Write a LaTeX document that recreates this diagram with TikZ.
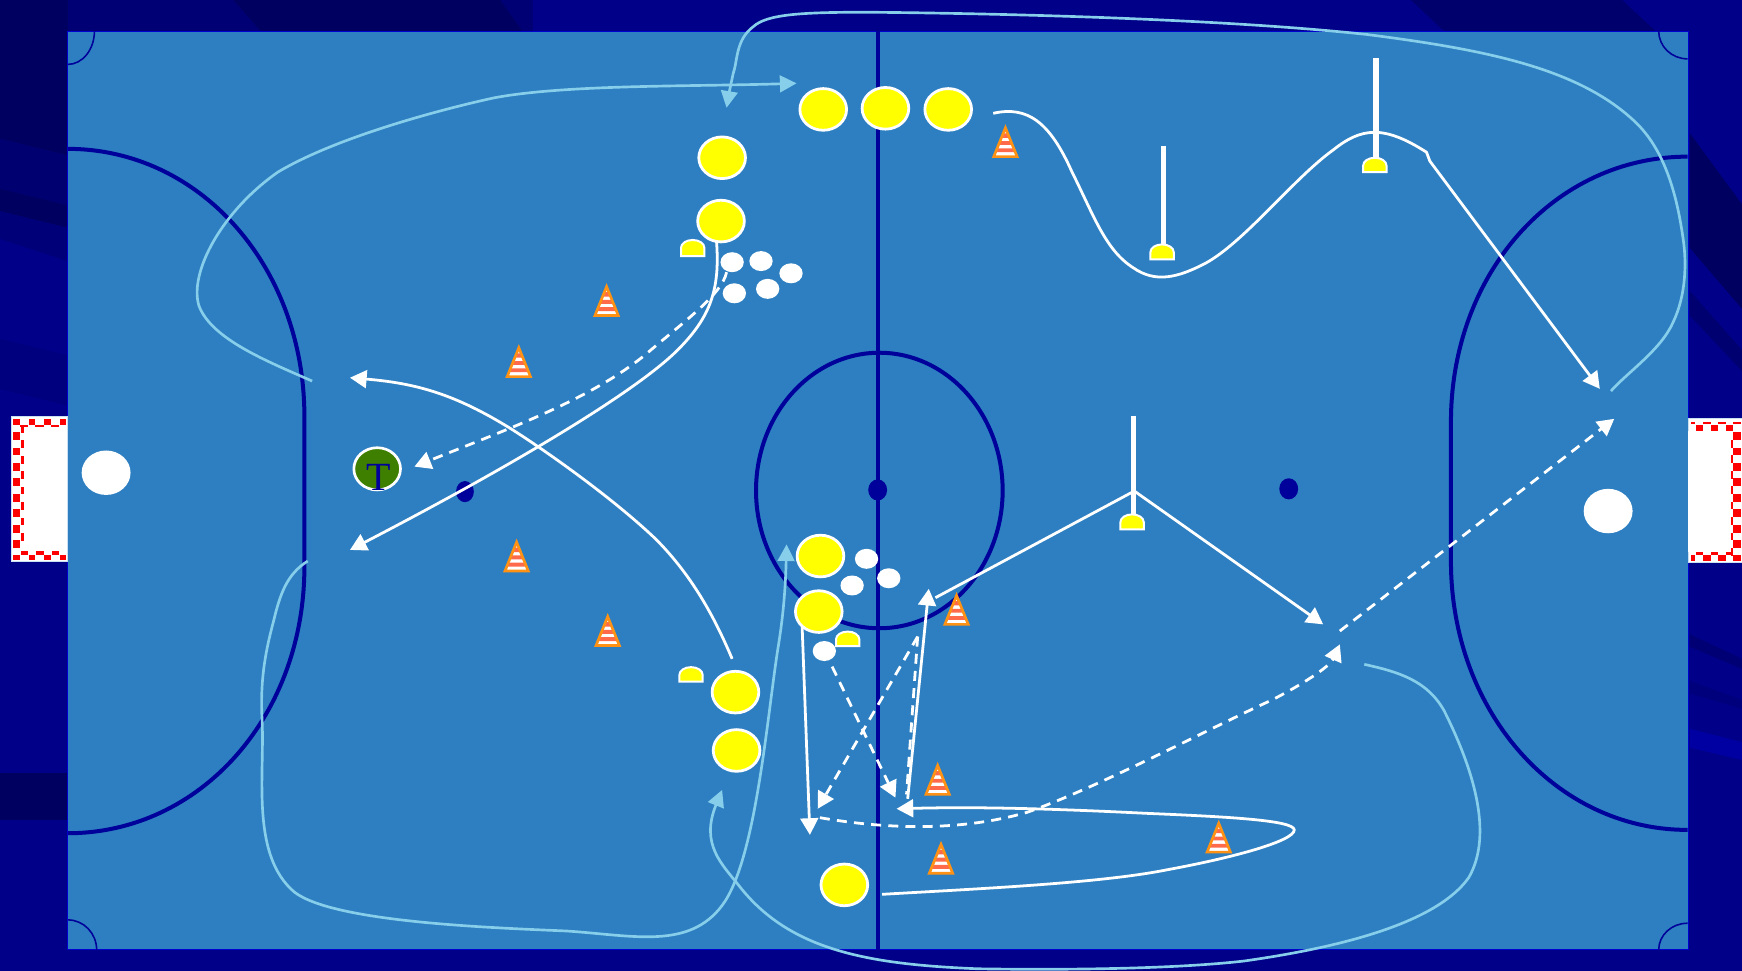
\documentclass[tikz,border=0pt]{standalone}
\usepackage{fontspec}
\setmainfont{Liberation Serif}
\usetikzlibrary{arrows.meta,shapes.geometric}
\definecolor{bgnavy}{HTML}{000088}
\definecolor{bgdark}{HTML}{000060}
\definecolor{fieldblue}{HTML}{2D7FC1}
\definecolor{linenavy}{HTML}{00009A}
\definecolor{lightrun}{HTML}{87CEEB}
\definecolor{coneorange}{HTML}{FF9214}
\definecolor{conestripe}{HTML}{FF6A4A}
\definecolor{teamgreen}{HTML}{3F7F00}
\definecolor{puryellow}{HTML}{FFFF00}
\definecolor{purered}{HTML}{FF0000}
\tikzset{
  fieldline/.style={draw=linenavy,line width=3.6pt},
  cornerline/.style={draw=linenavy,line width=1.4pt},
  player/.style={shape=ellipse,draw=white,line width=2.5pt,fill=puryellow,minimum width=42pt,minimum height=37.5pt,inner sep=0pt},
  ballw/.style={shape=ellipse,fill=white,minimum width=21pt,minimum height=18pt,inner sep=0pt},
  bigball/.style={shape=ellipse,fill=white,minimum width=44pt,minimum height=40pt,inner sep=0pt},
  spotn/.style={shape=ellipse,fill=linenavy,inner sep=0pt},
  tipw/.style={-{Triangle[length=15pt,width=16pt]}},
  run/.style={draw=white,line width=2.5pt,tipw,line join=round},
  dashrun/.style={run,dash pattern=on 9pt off 6.5pt},
  lrun/.style={draw=lightrun,line width=2.4pt,-{Triangle[length=15pt,width=15pt,fill=lightrun]},line join=round},
  pole/.style={draw=white,line width=4.8pt},
  domes/.style={draw=white,line width=1.8pt,fill=puryellow},
}
\newcommand{\conemark}[2]{%
  \begin{scope}[shift={(#1,#2)}]
    \fill[white] (0,1) -- (-11,28) -- (11,28) -- cycle;
    \fill[conestripe] (-1.6,7) -- (1.6,7) -- (3,11) -- (-3,11) -- cycle;
    \fill[conestripe] (-4.2,14) -- (4.2,14) -- (5.6,17.5) -- (-5.6,17.5) -- cycle;
    \fill[conestripe] (-6.8,20.5) -- (6.8,20.5) -- (8.2,24) -- (-8.2,24) -- cycle;
    \draw[coneorange,line width=2.4pt,line join=miter] (0,2) -- (-10.5,28) -- (10.5,28) -- cycle;
  \end{scope}}
\newcommand{\domemark}[3]{% x, top y, base y
  \draw[domes] (#1-10.5,#3) -- (#1-10.5,#2+7) arc[start angle=180,end angle=360,x radius=10.5,y radius=7] -- (#1+10.5,#3) -- cycle;}
\begin{document}
\begin{tikzpicture}[x=1pt,y=-1pt,font=\rmfamily]
\useasboundingbox (0,0) rectangle (1568,874);
% background
\fill[bgnavy] (0,0) rectangle (1568,874);
\fill[bgdark!50!bgnavy] (0,0) rectangle (480,28);
\fill[bgdark] (210,0) -- (450,0) -- (470,28) -- (235,28) -- cycle;
\fill[bgdark!70!bgnavy] (1270,0) -- (1460,0) -- (1490,28) -- (1300,28) -- cycle;
\fill[bgdark] (0,0) -- (61,0) -- (61,140) -- (0,125) -- cycle;
\fill[bgdark!60!bgnavy] (0,125) -- (61,140) -- (61,210) -- (0,190) -- cycle;
\fill[bgdark] (0,170) -- (61,185) -- (61,205) -- (0,190) -- cycle;
\fill[bgdark!40!bgnavy] (0,190) -- (61,205) -- (61,235) -- (0,215) -- cycle;
\fill[bgdark!25!bgnavy] (0,305) -- (61,320) -- (61,365) -- (0,350) -- cycle;
\fill[bgdark] (0,696) -- (61,696) -- (61,738) -- (0,738) -- cycle;
\fill[bgdark] (1521,120) -- (1568,184) -- (1568,278) -- (1521,223) -- cycle;
\fill[bgdark!60!bgnavy] (1521,262) -- (1568,315) -- (1568,334) -- (1521,284) -- cycle;
\fill[bgdark!50!bgnavy] (1521,571) -- (1568,593) -- (1568,602) -- (1521,582) -- cycle;
\fill[bgdark!30!bgnavy] (1521,613) -- (1568,630) -- (1568,638) -- (1521,624) -- cycle;
\fill[blue!22!bgnavy] (1521,656) -- (1568,668) -- (1568,684) -- (1521,673) -- cycle;
% field
\draw[fill=fieldblue,draw=blue!60!bgnavy,line width=.8pt] (61,28) rectangle (1519.5,855);
% left goal
\fill[white] (10.5,375) rectangle (61,505.5);
\draw[white!75!fieldblue,line width=.6pt] (10.5,375) rectangle (61,505.5);
\foreach \xx in {0,1,2,3} {
  \fill[purered] (12+13.9*\xx,377) rectangle ++(6,5.5);
  \fill[purered] (12+13.9*\xx,499.5) rectangle ++(6,4.5);
}
\foreach \xx in {0,1,2} {
  \fill[purered] (18+13.9*\xx,382.5) rectangle ++(7.5,2.1);
  \fill[purered] (18.6+13.9*\xx,495.6) rectangle ++(7,3.9);
}
\foreach \yy in {0,...,7} {
  \fill[purered] (12,389+13.9*\yy) rectangle ++(6,7);
  \fill[purered] (18.6,382.5+13.9*\yy) rectangle ++(3,7);
}
% right goal
\fill[white] (1519.5,376.5) rectangle (1568,506.5);
\draw[white!75!fieldblue,line width=.6pt] (1568,376.5) -- (1520,376.5) -- (1520,388);
\draw[white!75!fieldblue,line width=.6pt] (1568,506.5) -- (1520,506.5) -- (1520,497);
\fill[purered] (1522,379.5) rectangle (1525.5,381.6);
\fill[purered] (1522,499.5) rectangle (1525.5,504.6);
\foreach \xx in {0,1,2} {
  \fill[purered] (1533+13.5*\xx,379.5) rectangle ++(6.7,2.1);
  \fill[purered] (1526.4+13.5*\xx,382.5) rectangle ++(6.6,5.1);
  \fill[purered] (1533+13.5*\xx,499.5) rectangle ++(6.7,5.1);
  \fill[purered] (1526.4+13.5*\xx,497) rectangle ++(6.6,2.5);
}
\foreach \yy in {0,...,7} {
  \fill[purered] (1560,389+13.9*\yy) rectangle ++(7,7);
  \fill[purered] (1558.5,396+13.9*\yy) rectangle ++(1.5,7);
}
% field markings
\draw[fieldline] (790,28) -- (790,855);
\draw[fieldline] (791.5,441.5) ellipse[x radius=111,y radius=124];
\draw[fieldline] (61,134) .. controls (180,134) and (274,240) .. (274,375) -- (274,510) .. controls (274,645) and (180,750) .. (61,750);
\draw[fieldline] (1519,141) .. controls (1400,141) and (1306,245) .. (1306,380) -- (1306,505) .. controls (1306,640) and (1400,747) .. (1519,747);
\draw[cornerline] (61,58) arc[start angle=90,end angle=0,x radius=24,y radius=30];
\draw[cornerline] (61,828) arc[start angle=-90,end angle=0,x radius=26,y radius=27];
\draw[cornerline] (1493,28) arc[start angle=180,end angle=90,x radius=26,y radius=25];
\draw[cornerline] (1493,855) arc[start angle=180,end angle=270,x radius=26,y radius=24];
\node[spotn,minimum width=17pt,minimum height=19pt] (centre) at (790,441) {};
\node[spotn,minimum width=16pt,minimum height=19pt] (spotl) at (418.5,442.5) {};
\node[spotn,minimum width=17pt,minimum height=19pt] (spotr) at (1160,440) {};
% connectors
\draw[lrun] (1450,352) .. controls (1465,335) and (1495,315) .. (1506,290) .. controls (1518,265) and (1518,235) .. (1515,215) .. controls (1510,180) and (1500,135) .. (1470,108) .. controls (1420,62) and (1340,45) .. (1230,31) .. controls (1100,17) and (900,12) .. (780,11) .. controls (720,11) and (690,13) .. (678,24) .. controls (662,36) and (664,55) .. (660,66) .. controls (658,75) and (656,85) .. (654,97);
\draw[lrun] (281,343) .. controls (240,325) and (190,305) .. (179,275) .. controls (170,245) and (200,190) .. (250,155) .. controls (300,125) and (390,100) .. (445,88) .. controls (510,76) and (620,78) .. (717,75);
\draw[lrun] (277,505) .. controls (258,517) and (252,535) .. (246,560) .. controls (238,590) and (234,615) .. (236,650) .. controls (238,700) and (226,770) .. (265,803) .. controls (300,830) and (440,835) .. (510,838) .. controls (570,842) and (620,855) .. (650,815) .. controls (680,775) and (690,650) .. (700,585) .. controls (705,555) and (707,530) .. (708,490);
\draw[lrun] (1228,598) .. controls (1260,605) and (1285,613) .. (1300,640) .. controls (1325,690) and (1345,750) .. (1322,790) .. controls (1290,835) and (1190,855) .. (1120,865) .. controls (1050,873) and (940,873) .. (880,872) .. controls (780,868) and (710,855) .. (665,797) .. controls (650,778) and (630,760) .. (650,711);
\draw[run] (894,102) .. controls (925,95) and (945,110) .. (965,155) .. controls (985,195) and (995,225) .. (1020,241) .. controls (1040,255) and (1060,250) .. (1085,237) .. controls (1120,218) and (1165,160) .. (1200,135) .. controls (1225,115) and (1245,112) .. (1284,137) -- (1287,145) -- (1440,350);
\draw[run] (659,593) .. controls (645,560) and (625,520) .. (590,485) .. controls (550,447) and (490,405) .. (460,386) .. controls (410,355) and (375,345) .. (315,340);
\draw[run] (645,218) .. controls (648,260) and (640,285) .. (610,315) .. controls (570,355) and (450,425) .. (315,495);
\draw[dashrun] (654,245) .. controls (650,265) and (615,290) .. (580,320) .. controls (530,360) and (460,385) .. (373,420);
\draw[run] (842,538) -- (1021,442) -- (1191,562);
\draw[dashrun] (1206,568) -- (1453,377);
\draw[dashrun] (738,736) .. controls (790,745) and (860,750) .. (925,731) .. controls (990,708) and (1090,655) .. (1145,630) .. controls (1180,612) and (1198,598) .. (1206,580);
\draw[run] (794,805) .. controls (880,800) and (990,795) .. (1050,783) .. controls (1110,772) and (1165,757) .. (1165,747) .. controls (1165,738) and (1100,735) .. (1030,732) .. controls (950,728) and (880,726) .. (807,728);
\draw[run] (722,564) -- (729,751.5);
\draw[run] (817,719) -- (836,530);
\draw[run,dash pattern=on 9pt off 6.5pt,-] (826,573) -- (816,715);
\draw[dashrun] (826,573) -- (736,728);
\draw[dashrun] (749,600) -- (806,718);
% poles and domes
\draw[pole] (1047,131) -- (1047,222);
\draw[pole] (1238.5,52) -- (1238.5,145);
\draw[pole] (1020.5,374) -- (1020.5,465);
\domemark{623.5}{216}{230.5}
\domemark{1046}{220}{233.5}
\domemark{1237.5}{142}{155}
\domemark{1019}{463}{476.5}
\domemark{763}{568.5}{581.5}
\domemark{622}{600.5}{613.5}
% cones
\conemark{905}{113}
\conemark{546}{256}
\conemark{467}{311}
\conemark{465}{486}
\conemark{861}{534}
\conemark{547}{553}
\conemark{844}{687}
\conemark{1097}{739}
\conemark{847}{758}
% players
\node[player] (p1) at (741,98.5) {};
\node[player] (p2) at (797,97.5) {};
\node[player] (p3) at (853.5,98.5) {};
\node[player] (p4) at (650,142) {};
\node[player] (p5) at (649,199) {};
\node[player] (p6) at (738.5,500.5) {};
\node[player] (p7) at (737,550.5) {};
\node[player] (p8) at (662,623) {};
\node[player] (p9) at (663,675.5) {};
\node[player] (p10) at (760,796.5) {};
\foreach \nm/\px/\py in {b1/659/236,b2/685/235,b3/712/246,b4/661/264,b5/691/260,b6/780/503,b7/767/527,b8/800/520.5,b9/742/586} {
  \node[ballw] (\nm) at (\px,\py) {};
}
\node[bigball] (gl) at (95.5,425.5) {};
\node[bigball] (gr) at (1447.5,460) {};
\node[shape=ellipse,draw=white,line width=2.4pt,fill=teamgreen,minimum width=42pt,minimum height=38pt,inner sep=0pt] (coach) at (339.5,422) {};
\node[text=linenavy,font=\fontsize{36pt}{36pt}\selectfont,inner sep=0pt] (coachT) at (341,430) {T};
\end{tikzpicture}
\end{document}
